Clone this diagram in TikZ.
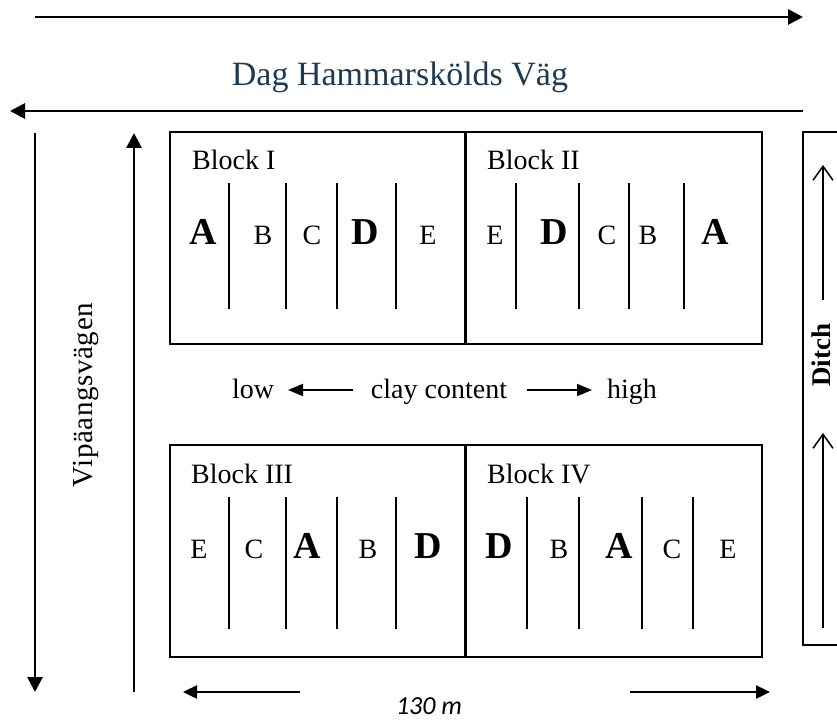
\documentclass[tikz,border=0pt]{standalone}
\usepackage{fontspec}
\setmainfont{Liberation Serif}
\newfontfamily\calib{Carlito}
\usetikzlibrary{arrows.meta}
\definecolor{roadblue}{RGB}{28,58,84}
\begin{document}
\begin{tikzpicture}[x=1pt,y=-1pt,
  road/.style={line width=2.8pt,-{Triangle[length=15pt,width=15pt]}},
  scalearrow/.style={line width=2.4pt,-{Triangle[length=14pt,width=13pt]}},
  clayarrow/.style={line width=1.9pt,-{Triangle[length=15pt,width=12pt]}},
  ditcharrow/.style={line width=1.5pt,-{Straight Barb[length=14pt,width=20pt,line width=1.5pt]}},
  blockbox/.style={draw,line width=1.5pt,inner sep=0pt,minimum height=212pt},
  plotline/.style={line width=1.5pt},
  divline/.style={line width=3pt},
  lab/.style={font=\fontsize{28}{30}\selectfont,inner sep=0pt,anchor=base},
  biglab/.style={font=\fontsize{38}{40}\selectfont\bfseries,inner sep=0pt,anchor=base},
  blocklab/.style={font=\fontsize{28}{30}\selectfont,inner sep=0pt,anchor=base west}]
\useasboundingbox (0,0) rectangle (837,722);

% roads
\coordinate (t1) at (35,17);   \coordinate (t2) at (803,17);
\coordinate (s1) at (803,111); \coordinate (s2) at (10,111);
\draw[road] (t1) -- (t2);
\draw[road] (s1) -- (s2);
\node[inner sep=0pt,anchor=base,text=roadblue,font=\fontsize{34}{36}\selectfont] (dag) at (400,86) {Dag Hammarskölds Väg};

\coordinate (d1) at (35,133); \coordinate (d2) at (35,692);
\coordinate (u1) at (134,692); \coordinate (u2) at (134,133);
\draw[road] (d1) -- (d2);
\draw[road] (u1) -- (u2);
\node[inner sep=0pt,rotate=90,font=\fontsize{29}{31}\selectfont\addfontfeature{LetterSpace=2}] (vip) at (86,395) {Vipäangsvägen};

% blocks
\node[blockbox,minimum width=295pt] (b1) at (317.5,238) {};
\node[blockbox,minimum width=297pt] (b2) at (613.5,238) {};
\node[blockbox,minimum width=295pt] (b3) at (317.5,551) {};
\node[blockbox,minimum width=297pt] (b4) at (613.5,551) {};
\draw[divline] (b1.north east) -- (b1.south east);
\draw[divline] (b3.north east) -- (b3.south east);

\node[blocklab] (b1t) at (192,170) {Block I};
\node[blocklab] (b2t) at (487,170) {Block II};
\node[blocklab] (b3t) at (191,483) {Block III};
\node[blocklab] (b4t) at (487,483) {Block IV};

% plot lines
\foreach \x in {229,286,337,396,516,579,629,684} \draw[plotline] (\x,183) -- (\x,309);
\foreach \x in {229,286,337,396,527,579,642,693} \draw[plotline] (\x,497) -- (\x,629);

% block I
\node[biglab] (b1a) at (203,244) {A};
\node[lab] (b1b) at (263,244) {B};
\node[lab] (b1c) at (312,244) {C};
\node[biglab] (b1d) at (365,244) {D};
\node[lab] (b1e) at (428,244) {E};
% block II
\node[lab] (b2e) at (495,244) {E};
\node[biglab] (b2d) at (554,244) {D};
\node[lab] (b2c) at (607,244) {C};
\node[lab] (b2b) at (648,244) {B};
\node[biglab] (b2a) at (715,244) {A};
% block III
\node[lab] (b3e) at (199,558) {E};
\node[lab] (b3c) at (254,558) {C};
\node[biglab] (b3a) at (307,558) {A};
\node[lab] (b3b) at (368,558) {B};
\node[biglab] (b3d) at (428,558) {D};
% block IV
\node[biglab] (b4d) at (499,558) {D};
\node[lab] (b4b) at (559,558) {B};
\node[biglab] (b4a) at (619,558) {A};
\node[lab] (b4c) at (672,558) {C};
\node[lab] (b4e) at (728,558) {E};

% clay content
\node[lab] (low) at (253,398) {low};
\node[lab] (clay) at (439,398) {clay content};
\node[lab] (high) at (632,398) {high};
\coordinate (c1) at (353,390); \coordinate (c2) at (288,390);
\coordinate (c3) at (527,390); \coordinate (c4) at (592,390);
\draw[clayarrow] (c1) -- (c2);
\draw[clayarrow] (c3) -- (c4);

% ditch
\draw[line width=1.5pt] (840,132) -- (803,132) -- (803,645) -- (840,645);
\node[inner sep=0pt,rotate=90,font=\fontsize{27}{29}\selectfont\bfseries] (ditch) at (821,355) {Ditch};
\coordinate (e1) at (823,300); \coordinate (e2) at (823,165);
\coordinate (e3) at (823,628); \coordinate (e4) at (823,433);
\draw[ditcharrow] (e1) -- (e2);
\draw[ditcharrow] (e3) -- (e4);

% scale
\coordinate (m1) at (300,692); \coordinate (m2) at (183,692);
\coordinate (m3) at (630,692); \coordinate (m4) at (770,692);
\draw[scalearrow] (m1) -- (m2);
\draw[scalearrow] (m3) -- (m4);
\node[inner sep=0pt,anchor=base,font=\fontsize{26}{28}\selectfont\calib\itshape] (len) at (429,714) {130 m};
\end{tikzpicture}
\end{document}
